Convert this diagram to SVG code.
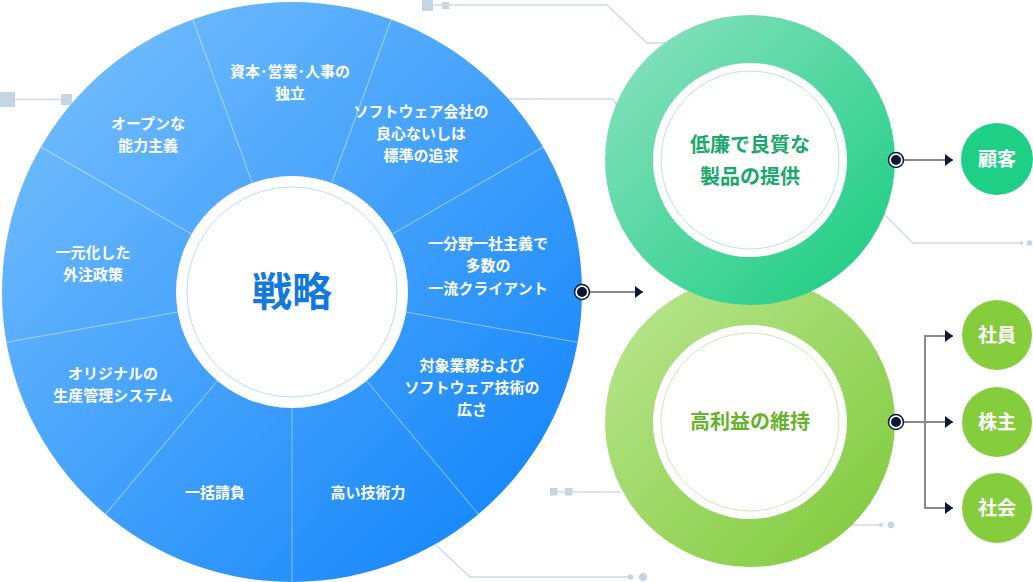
<svg xmlns="http://www.w3.org/2000/svg" width="1033" height="582" viewBox="0 0 1033 582">
<defs>
<linearGradient id="gBlue" x1="0" y1="0" x2="1" y2="1">
<stop offset="0" stop-color="#7cc2fd"/>
<stop offset="1" stop-color="#0a80fa"/>
</linearGradient>
<linearGradient id="gTeal" x1="0" y1="0" x2="1" y2="1">
<stop offset="0" stop-color="#8fe2c2"/>
<stop offset="1" stop-color="#16cc7f"/>
</linearGradient>
<linearGradient id="gLime" x1="0" y1="0" x2="1" y2="1">
<stop offset="0" stop-color="#bce793"/>
<stop offset="1" stop-color="#7dc937"/>
</linearGradient>
<marker id="arr" markerWidth="8" markerHeight="12" refX="8" refY="6" orient="auto" markerUnits="userSpaceOnUse">
<path d="M0,0 L8,6 L0,12 Z" fill="#0c1838"/>
</marker>
<style>
.deco{fill:none;stroke:#cddbea;stroke-width:1.4}
.decof{fill:#c5d5e6}
.div{stroke:#ffffff;stroke-opacity:0.45;stroke-width:1}
.seg{font-family:"Noto Sans CJK JP","Noto Sans",sans-serif;font-size:15px;font-weight:700;fill:#ffffff;text-anchor:middle}
.conn{fill:none;stroke:#8a8a8a;stroke-width:2}
.dot{fill:#ffffff;stroke:#0c1838;stroke-width:1.5}
.dotc{fill:#0c1838}
.lab{font-family:"Noto Sans CJK JP","Noto Sans",sans-serif;font-size:19px;font-weight:700;fill:#ffffff;text-anchor:middle}
.mid{font-family:"Noto Sans CJK JP","Noto Sans",sans-serif;font-size:20px;font-weight:700;text-anchor:middle}
</style>
</defs>

<g id="decor">
<rect class="decof" x="0" y="92" width="15" height="15"/>
<line class="deco" x1="15" y1="99.5" x2="62" y2="99.5"/>
<rect class="decof" x="61" y="94" width="11" height="11"/>
<rect class="decof" x="422" y="0" width="11" height="11"/>
<rect class="decof" x="442" y="2" width="7" height="7"/>
<polyline class="deco" points="433,5 607,5 647,43 680,43"/>
<polyline class="deco" points="500,99 613,99 620,110"/>
<polyline class="deco" points="870,200 913,243 1022,243"/>
<circle class="decof" cx="1021.5" cy="243" r="1.8"/>
<circle class="decof" cx="1029.5" cy="243" r="2.8"/>
<polyline class="deco" points="420,530 470,577 630,577"/>
<circle class="decof" cx="630.5" cy="577" r="2.7"/>
<circle class="decof" cx="643" cy="577" r="4.3"/>
<rect class="decof" x="550" y="488" width="7.5" height="7.5"/>
<rect class="decof" x="565" y="488" width="7.5" height="7.5"/>
<line class="deco" x1="557" y1="492" x2="620" y2="492"/>
<line class="deco" x1="840" y1="525" x2="880" y2="525"/>
<circle class="decof" cx="881" cy="525" r="2"/>
<circle class="decof" cx="891" cy="525" r="3.3"/>
</g>

<g id="strategy">
<circle cx="292" cy="292" r="290" fill="url(#gBlue)"/>
<g transform="translate(292,292)">
<line class="div" x1="0" y1="0" x2="290" y2="0" transform="rotate(-110)"/>
<line class="div" x1="0" y1="0" x2="290" y2="0" transform="rotate(-70)"/>
<line class="div" x1="0" y1="0" x2="290" y2="0" transform="rotate(-30)"/>
<line class="div" x1="0" y1="0" x2="290" y2="0" transform="rotate(10)"/>
<line class="div" x1="0" y1="0" x2="290" y2="0" transform="rotate(50)"/>
<line class="div" x1="0" y1="0" x2="290" y2="0" transform="rotate(90)"/>
<line class="div" x1="0" y1="0" x2="290" y2="0" transform="rotate(130)"/>
<line class="div" x1="0" y1="0" x2="290" y2="0" transform="rotate(170)"/>
<line class="div" x1="0" y1="0" x2="290" y2="0" transform="rotate(210)"/>
</g>
<circle cx="292" cy="292" r="116" fill="#ffffff"/>
<circle cx="292" cy="292" r="105" fill="none" stroke="#bcdcfb" stroke-width="1"/>
<text x="292" y="306" font-family="'Noto Sans CJK JP','Noto Sans',sans-serif" font-size="40" font-weight="700" fill="#1479dd" text-anchor="middle">戦略</text>
</g>

<g id="seg1"><text class="seg" x="290" y="77">資本･営業･人事の</text><text class="seg" x="290" y="99">独立</text></g>
<g id="seg2"><text class="seg" x="421" y="117">ソフトウェア会社の</text><text class="seg" x="421" y="139">良心ないしは</text><text class="seg" x="421" y="161">標準の追求</text></g>
<g id="seg3"><text class="seg" x="488" y="249">一分野一社主義で</text><text class="seg" x="488" y="271">多数の</text><text class="seg" x="488" y="294">一流クライアント</text></g>
<g id="seg4"><text class="seg" x="472" y="371">対象業務および</text><text class="seg" x="472" y="393">ソフトウェア技術の</text><text class="seg" x="472" y="415">広さ</text></g>
<g id="seg5"><text class="seg" x="368" y="498">高い技術力</text></g>
<g id="seg6"><text class="seg" x="215" y="498">一括請負</text></g>
<g id="seg7"><text class="seg" x="113" y="379">オリジナルの</text><text class="seg" x="113" y="401">生産管理システム</text></g>
<g id="seg8"><text class="seg" x="93" y="258">一元化した</text><text class="seg" x="93" y="280">外注政策</text></g>
<g id="seg9"><text class="seg" x="148" y="129">オープンな</text><text class="seg" x="148" y="151">能力主義</text></g>

<g id="profit">
<circle cx="750" cy="422" r="145" fill="url(#gLime)"/>
<circle cx="750" cy="422" r="97" fill="#ffffff"/>
<circle cx="750" cy="422" r="89" fill="none" stroke="#cfeab4" stroke-width="1"/>
<text class="mid" x="750" y="429" fill="#67b22a">高利益の維持</text>
</g>

<g id="quality">
<circle cx="750" cy="160" r="145" fill="url(#gTeal)"/>
<circle cx="750" cy="160" r="97" fill="#ffffff"/>
<circle cx="750" cy="160" r="89" fill="none" stroke="#b6ead0" stroke-width="1"/>
<text class="mid" x="750" y="152" fill="#18a96a">低廉で良質な</text>
<text class="mid" x="750" y="184" fill="#18a96a">製品の提供</text>
</g>

<g id="customer"><circle cx="997" cy="159" r="36" fill="#1ecf86"/><text class="lab" x="997" y="166">顧客</text></g>
<g id="employee"><circle cx="997" cy="335" r="35" fill="#86cd3d"/><text class="lab" x="997" y="342">社員</text></g>
<g id="shareholder"><circle cx="997" cy="422" r="35" fill="#86cd3d"/><text class="lab" x="997" y="429">株主</text></g>
<g id="society"><circle cx="997" cy="508" r="35" fill="#86cd3d"/><text class="lab" x="997" y="515">社会</text></g>

<g id="connectors">
<line class="conn" x1="582" y1="292" x2="643" y2="292" marker-end="url(#arr)"/>
<line class="conn" x1="896" y1="160" x2="953" y2="160" marker-end="url(#arr)"/>
<polyline class="conn" points="896,422 925,422"/>
<polyline class="conn" points="925,336 925,508"/>
<line class="conn" x1="924" y1="336" x2="953" y2="336" marker-end="url(#arr)"/>
<line class="conn" x1="925" y1="422" x2="953" y2="422" marker-end="url(#arr)"/>
<line class="conn" x1="924" y1="508" x2="953" y2="508" marker-end="url(#arr)"/>
<circle class="dot" cx="582" cy="292" r="7.5"/><circle class="dotc" cx="582" cy="292" r="5"/>
<circle class="dot" cx="896" cy="160" r="7.5"/><circle class="dotc" cx="896" cy="160" r="5"/>
<circle class="dot" cx="896" cy="422" r="7.5"/><circle class="dotc" cx="896" cy="422" r="5"/>
</g>
</svg>
